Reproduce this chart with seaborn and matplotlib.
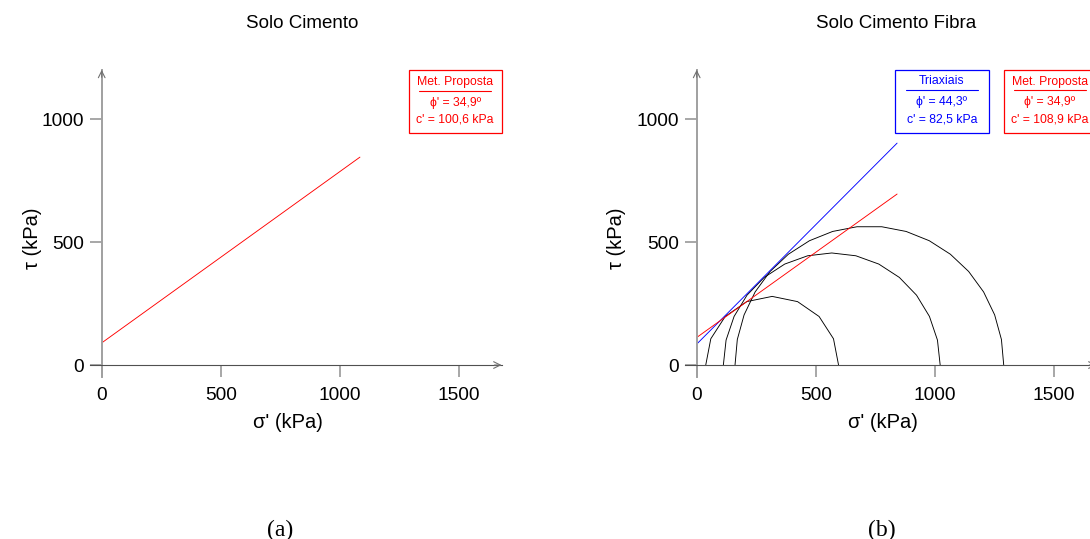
import numpy as np
import pandas as pd
import matplotlib
matplotlib.use("Agg")
import matplotlib.pyplot as plt
from matplotlib.patches import Rectangle
from matplotlib.lines import Line2D
import seaborn as sns

# ---------------- data ----------------
titles = ["Solo Cimento", "Solo Cimento Fibra"]
panel_tags = ["(a)", "(b)"]
x_ticks = [0, 500, 1000, 1500]
y_ticks = [0, 500, 1000]

# envelope lines (sigma', tau) end points
left_red_sigma = [0, 1085]
left_red_tau = [90, 845]
right_blue_sigma = [0, 842]
right_blue_tau = [85, 902]
right_red_sigma = [0, 842]
right_red_tau = [112, 695]

# Mohr circles (sigma3', sigma1')
sigma3 = [38, 112, 161]
sigma1 = [596, 1023, 1290]

box_left = ["Met. Proposta", "\u03d5' = 34,9\u00ba", "c' = 100,6 kPa"]
box_right_blue = ["Triaxiais", "\u03d5' = 44,3\u00ba", "c' = 82,5 kPa"]
box_right_red = ["Met. Proposta", "\u03d5' = 34,9\u00ba", "c' = 108,9 kPa"]

# ---------------- style ----------------
sns.set_theme(style="white")
plt.rcParams["font.family"] = ["Liberation Sans", "DejaVu Sans"]
plt.rcParams["text.color"] = "black"
plt.rcParams["axes.labelcolor"] = "black"
plt.rcParams["xtick.color"] = "black"
plt.rcParams["ytick.color"] = "black"

W, H = 1090, 539
fig = plt.figure(figsize=(W / 100, H / 100), dpi=100)
fig.patch.set_facecolor("white")

def fx(x):
    return x / W

def fy(y):
    return 1 - y / H

XLIM = (-50, 1700)
YLIM = (-50, 1210)
ax_w_px = 416.5
ax_h_px = 310.0

def make_axes(x0_px):
    left_px = x0_px - 50 * 0.238
    top_px = 365 - 1210 * 0.246
    ax = fig.add_axes([fx(left_px), fy(top_px + ax_h_px), ax_w_px / W, ax_h_px / H])
    ax.set_xlim(*XLIM)
    ax.set_ylim(*YLIM)
    ax.set_facecolor("none")
    for s in ["top", "right"]:
        ax.spines[s].set_visible(False)
    ax.spines["left"].set_position(("data", 0))
    ax.spines["bottom"].set_position(("data", 0))
    ax.spines["left"].set_bounds(-47, 1200)
    ax.spines["bottom"].set_bounds(-48, 1680)
    ax.spines["left"].set_color("#a0a0a0")
    ax.spines["left"].set_linewidth(1.4)
    ax.spines["bottom"].set_color("#505050")
    ax.spines["bottom"].set_linewidth(0.8)
    ax.set_xticks(x_ticks)
    ax.set_yticks(y_ticks)
    ax.set_xticklabels([str(v) for v in x_ticks])
    ax.set_yticklabels([str(v) for v in y_ticks])
    ax.tick_params(axis="both", direction="out", length=8.5, width=1.3,
                   color="#a0a0a0", labelsize=13.8, labelcolor="black")
    ax.tick_params(axis="x", pad=7, bottom=True)
    ax.tick_params(axis="y", pad=4, left=True)
    ax.grid(False)
    # open arrow heads at the axis ends
    ax.annotate("", xy=(1680, 0), xytext=(1650, 0),
                arrowprops=dict(arrowstyle="->", color="#707070", lw=0.8,
                                shrinkA=0, shrinkB=0, mutation_scale=12))
    ax.annotate("", xy=(0, 1200), xytext=(0, 1170),
                arrowprops=dict(arrowstyle="->", color="#707070", lw=0.8,
                                shrinkA=0, shrinkB=0, mutation_scale=12))
    return ax

axL = make_axes(101.7)
axR = make_axes(696.7)

# ----- left panel -----
sns.lineplot(x=left_red_sigma, y=left_red_tau, ax=axL, color="#ff0000",
             lw=0.65, sort=False, legend=False)

# ----- right panel -----
for s3, s1 in zip(sigma3, sigma1):
    c = (s1 + s3) / 2
    r = (s1 - s3) / 2
    n = max(8, int(round(np.pi * r / 105)))
    th = np.linspace(np.pi, 0, n + 1)
    df = pd.DataFrame({"s": c + r * np.cos(th), "t": r * np.sin(th)})
    sns.lineplot(data=df, x="s", y="t", ax=axR, color="black", lw=0.65,
                 sort=False, legend=False, estimator=None)
sns.lineplot(x=right_blue_sigma, y=right_blue_tau, ax=axR, color="#0000ff",
             lw=0.65, sort=False, legend=False)
sns.lineplot(x=right_red_sigma, y=right_red_tau, ax=axR, color="#ff0000",
             lw=0.65, sort=False, legend=False)
for a in (axL, axR):
    a.set_xlabel("")
    a.set_ylabel("")

# ----- labels / titles -----
fig.text(fx(302), fy(23), titles[0], ha="center", va="center", fontsize=13.5, color="black")
fig.text(fx(896), fy(23), titles[1], ha="center", va="center", fontsize=13.5, color="black")
for xc in (288, 883):
    fig.text(fx(xc), fy(423), "\u03c3' (kPa)", ha="center", va="center",
             fontsize=14.5, color="black")
for xc in (33, 617):
    fig.text(fx(xc), fy(238), "\u03c4 (kPa)", ha="center", va="center",
             fontsize=14.5, rotation=90, color="black")
fig.text(fx(280), fy(530), panel_tags[0], ha="center", va="center",
         fontsize=17, family="Liberation Serif", color="black")
fig.text(fx(882), fy(530), panel_tags[1], ha="center", va="center",
         fontsize=17, family="Liberation Serif", color="black")

# ----- info boxes -----
def info_box(x0, x1, y0, y1, color, lines):
    fig.add_artist(Rectangle((fx(x0), fy(y1)), fx(x1) - fx(x0), fy(y0) - fy(y1),
                             transform=fig.transFigure, fill=True, facecolor="white",
                             edgecolor=color, lw=0.9))
    xc = (x0 + x1) / 2
    fig.text(fx(xc), fy(y0 + 12), lines[0], ha="center", va="center",
             fontsize=8.8, color=color)
    fig.add_artist(Line2D([fx(xc - 36), fx(xc + 36)], [fy(y0 + 20.5), fy(y0 + 20.5)],
                          transform=fig.transFigure, color=color, lw=0.8))
    fig.text(fx(xc), fy(y0 + 33), lines[1], ha="center", va="center",
             fontsize=8.8, color=color)
    fig.text(fx(xc), fy(y0 + 50), lines[2], ha="center", va="center",
             fontsize=8.8, color=color)

info_box(409, 501.5, 70, 133, "#ff0000", box_left)
info_box(895, 989, 69.5, 133, "#0000ff", box_right_blue)
info_box(1003.5, 1096, 69.5, 133, "#ff0000", box_right_red)

fig.savefig("out.png", dpi=100, facecolor="white")
